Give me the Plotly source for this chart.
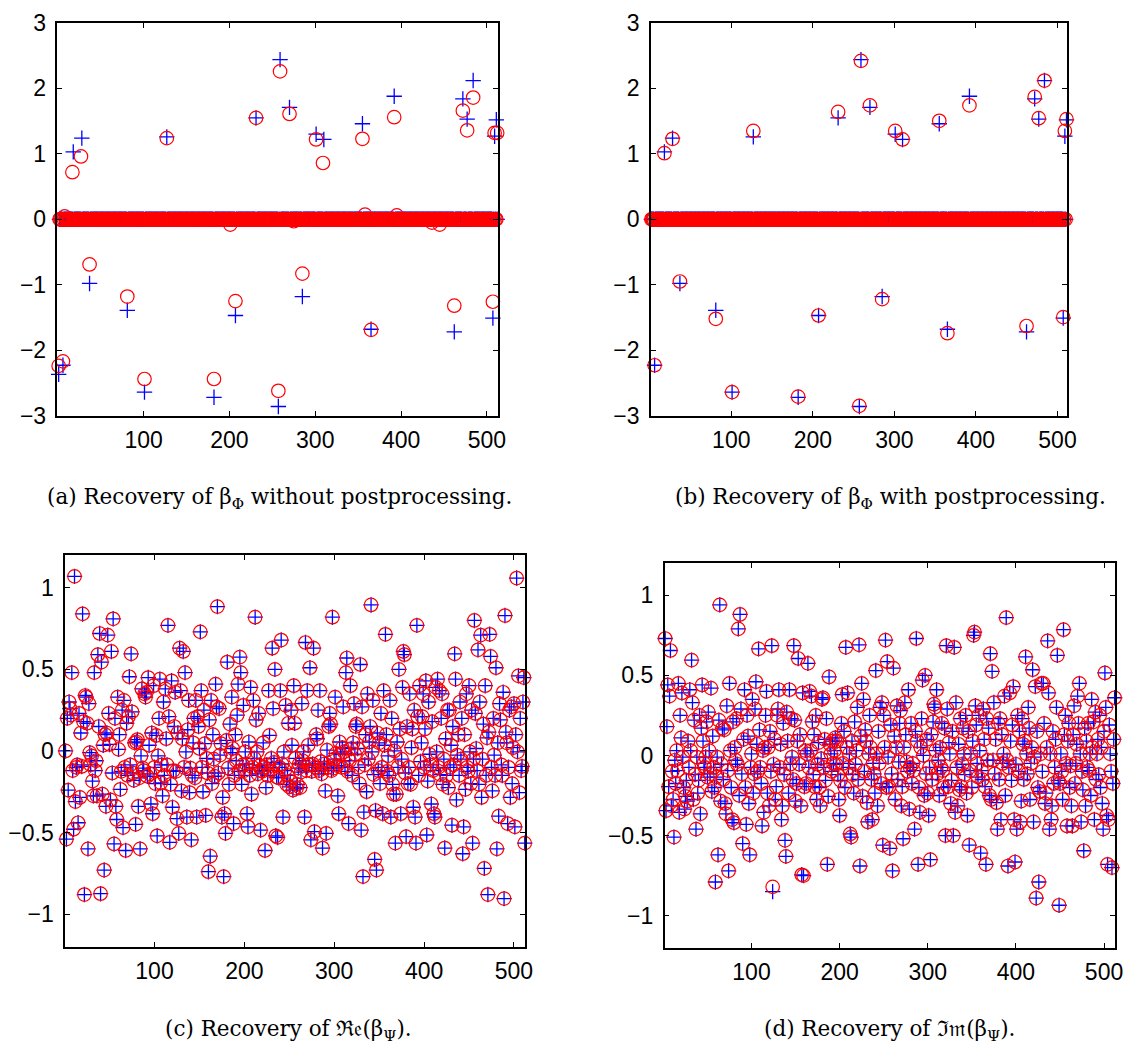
import plotly.graph_objects as go

N = 512

# ---------------- (a)/(b): sparse beta_Phi ----------------
phi_idx = [1, 6, 18, 28, 37, 81, 101, 127, 182, 207, 231, 257, 259, 270, 285,
           301, 310, 355, 365, 392, 462, 472, 477, 484, 507, 509, 511]
phi_true = [-2.37, -2.23, 1.03, 1.24, -0.98, -1.39, -2.64, 1.26, -2.72, -1.47, 1.55,
            -2.86, 2.44, 1.71, -1.18, 1.30, 1.22, 1.46, -1.68, 1.88, -1.72, 1.84,
            1.53, 2.12, -1.51, 1.27, 1.52]

# recovery without postprocessing
phi_a_idx = [1, 6, 17, 27, 37, 81, 101, 127, 182, 207, 231, 257, 259, 270, 285,
             301, 309, 355, 365, 392, 462, 472, 477, 484, 507, 509, 512,
             8, 201, 275, 358, 395, 436, 445]
phi_a_val = [-2.24, -2.17, 0.72, 0.96, -0.69, -1.18, -2.44, 1.24, -2.44, -1.25, 1.55,
             -2.62, 2.26, 1.61, -0.83, 1.22, 0.86, 1.23, -1.69, 1.56, -1.32, 1.66,
             1.36, 1.86, -1.26, 1.32, 1.32,
             0.045, -0.08, -0.03, 0.07, 0.06, -0.05, -0.08]

# recovery with postprocessing
phi_b_val = [-2.35, -2.23, 1.01, 1.23, -0.95, -1.52, -2.64, 1.35, -2.71, -1.47, 1.64,
             -2.85, 2.42, 1.74, -1.22, 1.35, 1.22, 1.505, -1.74, 1.74, -1.63, 1.87,
             1.545, 2.12, -1.495, 1.35, 1.53]

# ---------------- (c): Re(beta_Psi) ----------------
re_vals = (
    [0.0, -0.54, 0.20, -0.24, 0.30, 0.26, 0.22, 0.48, -0.12, -0.48, 1.07, -0.31]
    + [-0.10, -0.085, -0.44, 0.23, -0.285, 0.11, -0.095, 0.84, 0.18, -0.88, 0.34]
    + [0.33, 0.17, -0.60, 0.29, -0.01, -0.085, -0.03, -0.185, -0.275, 0.48, -0.12]
    + [-0.06, -0.275, 0.59, 0.15, 0.72, -0.875, 0.545, -0.265, 0.035, -0.73, 0.10]
    + [-0.34, 0.11, 0.71, 0.23, 0.04, -0.30, 0.61, -0.135, 0.81, -0.57, 0.20]
    + [-0.34, -0.42, 0.33, 0.01, 0.10, -0.235, -0.125, 0.25, -0.47, 0.31, -0.10]
    + [-0.61, 0.17, -0.15, 0.21, 0.455, -0.085, 0.595, 0.24, -0.135, -0.18, 0.05]
    + [-0.45, 0.055, 0.07, -0.34, -0.165, -0.60, -0.03, 0.38, -0.105, -0.12, 0.35]
    + [0.33, 0.36, -0.155, 0.45, 0.035, -0.14, -0.325, 0.11, -0.385, 0.40, -0.10]
    + [-0.20, 0.095, -0.52, -0.03, 0.20, 0.44, -0.195, -0.085, -0.275, 0.30, -0.15]
    + [0.38, 0.075, -0.085, 0.77, 0.21, -0.56, -0.205, 0.43, -0.345, -0.12, 0.15]
    + [0.36, -0.125, -0.415, 0.11, -0.505, 0.63, 0.37, -0.245, 0.075, 0.61, -0.10]
    + [0.48, -0.005, -0.405, 0.13, 0.31, -0.255, -0.105, -0.545, -0.15, 0.05, 0.20]
    + [-0.165, 0.31, -0.405, 0.21, 0.15, 0.015, 0.73, 0.37, -0.10, -0.25, 0.25]
    + [0.045, -0.395, -0.045, -0.135, -0.74, 0.19, -0.645, 0.31, -0.20, 0.10, -0.05]
    + [-0.155, 0.41, 0.27, 0.885, -0.135, 0.26, -0.025, 0.045, -0.405, -0.285, -0.77]
    + [-0.385, -0.505, 0.065, 0.545, -0.105, -0.205, 0.165, -0.01, 0.33, 0.015, -0.445, -0.15, 0.10, -0.06, 0.22]
    + [0.41, -0.125, 0.575, 0.48, -0.205, -0.085, 0.28, -0.12, -0.005, -0.08, -0.385, -0.465, 0.055, -0.15]
    + [0.39, -0.265, -0.10, 0.31, -0.045, 0.82, 0.19, -0.005, -0.14, 0.23, -0.09, -0.485, -0.12, -0.125, 0.05]
    + [-0.10, -0.61, -0.225, -0.085, -0.15, 0.37, 0.095, -0.12, -0.045, 0.63, 0.26, -0.07, 0.50, -0.52, -0.16]
    + [-0.53, -0.165, -0.10, 0.37, 0.68, -0.08, -0.405, -0.005, -0.12, 0.28, -0.205, -0.15, 0.17, -0.22]
    + [-0.185, 0.25, 0.035, -0.24, 0.40, 0.17, -0.045, -0.23, -0.205, -0.105, -0.08, -0.225, -0.13, 0.29, -0.06]
    + [-0.005, -0.405, 0.665, -0.12, 0.37, 0.035, -0.085, 0.51, -0.545, -0.125, -0.08, 0.63, -0.495, -0.10, 0.10]
    + [0.075, 0.25, -0.12, 0.37, -0.065, -0.14, -0.595, -0.105, -0.08, -0.245, -0.505, 0.005, -0.10, 0.15]
    + [0.23, 0.165, -0.12, 0.82, -0.105, -0.05, 0.33, -0.015, -0.09, -0.275, -0.385, 0.055, -0.02, -0.10, 0.02]
    + [0.27, -0.005, -0.10, 0.48, 0.57, -0.125, -0.445, -0.06, 0.40, 0.015, -0.15, 0.05, 0.29, -0.02, 0.15]
    + [0.165, 0.015, -0.10, -0.20, 0.53, -0.485, 0.27, -0.77, -0.375, -0.085, 0.10, -0.25, 0.35, -0.05]
    + [0.055, 0.15, 0.895, -0.005, 0.31, -0.145, -0.665, -0.365, -0.73, 0.11, -0.12, 0.05, -0.20, 0.23, -0.10]
    + [-0.385, 0.37, 0.035, 0.715, 0.10, -0.125, -0.03, -0.15, 0.31, -0.405, 0.20, -0.205, -0.265, 0.00]
    + [-0.565, -0.265, 0.055, -0.10, 0.50, 0.135, -0.385, -0.05, 0.39, 0.61, 0.59, -0.135, -0.525, 0.15, -0.20]
    + [-0.10, 0.35, -0.205, 0.02, 0.135, -0.345, 0.25, -0.405, -0.565, 0.77, 0.21, -0.15, 0.40, -0.065, 0.05]
    + [0.21, 0.35, -0.10, 0.135, 0.43, -0.515, -0.185, 0.30, -0.02, -0.085, -0.325, 0.18, -0.12, -0.385]
    + [-0.405, 0.39, -0.005, 0.44, -0.10, 0.37, -0.145, 0.20, 0.35, -0.205, -0.05, -0.595, 0.075, -0.15, 0.25]
    + [-0.225, 0.25, -0.10, 0.035, -0.455, 0.15, -0.085, 0.595, 0.44, -0.30, -0.025, 0.10, -0.15, 0.30, -0.05]
    + [0.20, -0.63, -0.465, 0.10, -0.235, 0.35, -0.10, -0.125, 0.40, -0.005, -0.20, 0.25, -0.565, -0.05]
    + [0.80, 0.23, 0.015, -0.12, 0.62, -0.205, 0.30, 0.71, -0.285, -0.05, 0.165, -0.72, 0.40, -0.15, 0.08]
    + [-0.88, 0.115, 0.715, 0.58, -0.10, -0.245, 0.20, -0.025, -0.15, 0.51, -0.60, 0.05, -0.40, 0.29]
    + [0.19, -0.085, -0.15, 0.36, -0.905, 0.83, 0.115, 0.05, -0.445, -0.10, 0.25, -0.285, 0.27, -0.20, 0.02]
    + [0.29, -0.465, 0.10, 1.06, -0.005, 0.46, -0.255, 0.20, -0.12, -0.095, 0.30, 0.45, -0.565]
)

# ---------------- (d): Im(beta_Psi) ----------------
im_vals = (
    [0.01, 0.73, -0.345, 0.18, 0.44, -0.195, 0.37, 0.655, -0.315, -0.10, -0.275, -0.51, -0.03, -0.175]
    + [0.03, -0.095, 0.45, -0.355, 0.25, 0.11, 0.39, -0.01, -0.20, -0.335, -0.255]
    + [-0.155, -0.285, 0.09, -0.075, 0.41, 0.03, 0.595, 0.33, -0.275, 0.22, -0.12]
    + [-0.46, -0.01, -0.235, -0.155, 0.25, -0.365, 0.17, 0.44, 0.09, -0.05, -0.075]
    + [-0.01, 0.21, -0.135, 0.27, 0.03, -0.115, 0.42, -0.225, 0.12, -0.075, -0.20, -0.79]
    + [-0.135, -0.01, -0.62, 0.22, 0.94, -0.285, -0.055, 0.17, -0.15, 0.16, -0.30]
    + [-0.365, 0.31, -0.095, -0.72, 0.45, 0.03, -0.20, -0.40, 0.21, -0.42, 0.05]
    + [-0.03, 0.23, -0.055, 0.79, -0.25, 0.88, 0.29, -0.115, -0.55, 0.10, 0.41]
    + [-0.20, -0.43, 0.25, 0.12, -0.30, -0.62, -0.075, 0.01, 0.35, -0.235, -0.115]
    + [0.29, 0.46, 0.07, -0.10, 0.665, 0.16, -0.075, -0.175, -0.44, 0.03, -0.355, 0.05]
    + [0.25, 0.40, -0.235, 0.05, -0.315, 0.15, -0.10, 0.685, -0.85, -0.055, 0.10]
    + [-0.275, -0.195, 0.25, 0.29, 0.41, -0.075, 0.07, -0.40, -0.315, 0.20, -0.12]
    + [-0.53, -0.63, 0.27, 0.09, -0.235, 0.41, -0.055, 0.23, -0.01, -0.15, 0.685]
    + [0.22, -0.285, -0.175, 0.09, 0.605, -0.055, 0.13, -0.315, -0.745, 0.39, -0.75, -0.195, 0.03, -0.175, 0.01]
    + [0.575, -0.075, 0.40, 0.03, 0.37, 0.21, -0.12, 0.13, -0.195, 0.25, -0.275, -0.055, 0.08, -0.20, -0.315]
    + [-0.02, 0.35, 0.36, -0.075, 0.10, -0.155, 0.23, -0.68, -0.255, 0.49, 0.07, 0.01, -0.10, 0.09, -0.05]
    + [0.03, 0.11, -0.055, 0.09, -0.12, -0.275, -0.375, -0.155, 0.20, 0.38, -0.05, 0.15, -0.20, 0.675, 0.05]
    + [0.39, -0.075, 0.01, -0.49, -0.51, 0.09, -0.12, -0.235, 0.21, -0.055, 0.03, 0.30, -0.15, 0.69, -0.69]
    + [0.12, 0.45, -0.255, 0.35, -0.10, 0.16, 0.09, -0.295, -0.415, 0.01, 0.25, 0.05, -0.15, -0.40, -0.05]
    + [-0.115, -0.235, 0.53, 0.01, -0.315, 0.15, -0.05, 0.30, -0.175, 0.33, -0.56, 0.25, 0.05, 0.72, -0.20]
    + [0.585, -0.01, -0.195, -0.58, 0.19, -0.115, -0.72, 0.545, 0.12, -0.275, 0.05, 0.31, -0.15, -0.04, 0.20]
    + [0.28, -0.315, -0.195, -0.52, 0.05, 0.33, 0.13, -0.04, -0.10, 0.41, -0.335, -0.075, 0.20, -0.175, -0.05]
    + [-0.095, -0.46, 0.15, 0.73, 0.09, -0.68, -0.20, -0.355, 0.05, 0.23, 0.47, 0.0, -0.25, 0.50, -0.115]
    + [0.10, -0.235, -0.375, -0.075, -0.65, 0.13, -0.15, 0.21, 0.32, 0.30, 0.03, 0.41, -0.115, -0.03, -0.25]
    + [0.05, -0.075, 0.20, -0.095, -0.20, 0.17, -0.50, 0.685, 0.29, -0.195, 0.08, 0.01, -0.30, -0.155, 0.15]
    + [-0.50, 0.675, -0.355, 0.33, -0.075, -0.315, 0.07, -0.215, 0.23, -0.195, -0.055, 0.17, 0.01, -0.12, 0.25]
    + [-0.235, -0.375, 0.15, -0.56, -0.095, 0.01, -0.20, 0.09, 0.75, 0.77, 0.31, 0.19, -0.05, -0.135, 0.25]
    + [0.03, -0.61, -0.095, -0.15, 0.29, 0.10, -0.195, -0.68, 0.23, -0.03, 0.17, -0.25, 0.635, -0.275, 0.525]
    + [-0.03, 0.33, -0.115, 0.10, -0.295, -0.46, 0.20, -0.15, 0.23, -0.40, 0.13, -0.05, 0.01, 0.37, -0.25]
    + [0.86, -0.03, -0.69, -0.075, 0.39, 0.09, -0.155, 0.19, 0.43, -0.40, -0.665, -0.055, -0.46, 0.25, -0.10]
    + [0.15, -0.415, -0.285, 0.23, 0.07, -0.15, 0.09, 0.615, 0.01, -0.115, 0.30, 0.17, -0.275, -0.05, 0.05]
    + [0.535, -0.415, -0.01, 0.43, -0.89, 0.15, -0.20, -0.79, -0.225, 0.01, 0.45, -0.10, 0.45, 0.20, -0.30]
    + [-0.235, 0.05, 0.715, 0.39, -0.46, 0.01, -0.40, -0.315, 0.15, -0.175, -0.075, 0.10, 0.30, 0.625, -0.155]
    + [-0.935, -0.175, 0.01, -0.10, -0.275, 0.785, 0.13, 0.25, -0.05, -0.44, 0.09, 0.20, -0.20, -0.065, -0.315]
    + [-0.44, 0.13, 0.31, -0.175, -0.05, 0.07, 0.37, 0.20, 0.45, 0.01, -0.415, -0.10, -0.215, -0.595, 0.17]
    + [-0.315, 0.09, -0.075, 0.20, -0.095, 0.01, -0.25, 0.35, 0.05, 0.21, -0.40, 0.27, -0.15, 0.01, 0.10]
    + [-0.12, 0.25, -0.20, 0.05, -0.30, -0.46, 0.15, 0.515, 0.30, -0.375, -0.68, -0.40, 0.19, 0.01, -0.10, -0.70, -0.175, 0.10, 0.36]
)
# points where the estimate visibly differs from the truth in (d)
im_est_fix_idx = [124]
im_est_fix_val = [-0.82]

x_ticks = [100, 200, 300, 400, 500]
y_ticks_top = [-3, -2, -1, 0, 1, 2, 3]
y_ticks_bot = [-1, -0.5, 0, 0.5, 1]
y_text_bot = ["\u22121", "\u22120.5", "0", "0.5", "1"]
y_text_top = ["\u22123", "\u22122", "\u22121", "0", "1", "2", "3"]

captions = [
    "(a) Recovery of \u03b2<sub>\u03a6</sub> without postprocessing.",
    "(b) Recovery of \u03b2<sub>\u03a6</sub> with postprocessing.",
    "(c) Recovery of \u211c\U0001D522(\u03b2<sub>\u03a8</sub>).",
    "(d) Recovery of \u2111\U0001D52A(\u03b2<sub>\u03a8</sub>).",
]

# ---------------- build full vectors ----------------
idx = list(range(1, N + 1))
true_phi = [0.0] * N
for i, v in zip(phi_idx, phi_true):
    true_phi[i - 1] = v
est_a = [0.0] * N
for i, v in zip(phi_a_idx, phi_a_val):
    est_a[i - 1] = v
est_b = [0.0] * N
for i, v in zip(phi_idx, phi_b_val):
    est_b[i - 1] = v

re_idx = list(range(1, len(re_vals) + 1))
im_idx = list(range(1, len(im_vals) + 1))
im_est = list(im_vals)
for i, v in zip(im_est_fix_idx, im_est_fix_val):
    im_est[i - 1] = v

# the page body has an 8px margin on every side: size the figure so that
# figure + margins exactly fills the 1148x1063 window
OFF = 8
W, H = 1148 - 2 * OFF, 1063 - 2 * OFF
fig = go.Figure()

BLUE = "#0000ff"
RED = "#ff0000"


def add_pair(xs, ys_true, ys_est, xa, ya):
    fig.add_trace(go.Scatter(
        x=xs, y=ys_true, mode="markers", xaxis=xa, yaxis=ya, cliponaxis=False,
        marker=dict(symbol="cross-thin-open", size=11, color=BLUE,
                    line=dict(color=BLUE, width=1.3)),
        showlegend=False, hoverinfo="skip"))
    fig.add_trace(go.Scatter(
        x=xs, y=ys_est, mode="markers", xaxis=xa, yaxis=ya, cliponaxis=False,
        marker=dict(symbol="circle-open", size=13.5, color=RED,
                    line=dict(color=RED, width=1.2)),
        showlegend=False, hoverinfo="skip"))


add_pair(idx, true_phi, est_a, "x", "y")
add_pair(idx, true_phi, est_b, "x2", "y2")
add_pair(re_idx, re_vals, re_vals, "x3", "y3")
add_pair(im_idx, im_vals, im_est, "x4", "y4")

tickfont = dict(family="Liberation Sans, Arial, sans-serif", size=23, color="black")


def xax(dom, rng, anchor):
    return dict(domain=dom, range=rng, anchor=anchor, showline=True, linecolor="black",
                linewidth=1.5, mirror="ticks", ticks="inside", ticklen=5, tickwidth=1,
                tickcolor="black", showgrid=False, zeroline=False, tickvals=x_ticks,
                ticktext=[str(t) for t in x_ticks], tickfont=tickfont,
                ticklabelstandoff=3, ticklabeloverflow="allow")


def yax(dom, rng, anchor, vals, texts):
    return dict(domain=dom, range=rng, anchor=anchor, showline=True, linecolor="black",
                linewidth=1.5, mirror="ticks", ticks="inside", ticklen=5, tickwidth=1,
                tickcolor="black", showgrid=False, zeroline=False, tickvals=vals,
                ticktext=texts, tickfont=tickfont, ticklabelstandoff=5,
                ticklabeloverflow="allow")


def fx(a, b):
    return [(a - OFF) / W, (b - OFF) / W]


def fy(top, bot):
    return [1 - (bot - OFF) / H, 1 - (top - OFF) / H]


layout = dict(
    width=W, height=H, margin=dict(l=0, r=0, t=0, b=0),
    paper_bgcolor="white", plot_bgcolor="white", showlegend=False,
    xaxis=xax(fx(55, 500.7), [-0.4, 513], "y"),
    yaxis=yax(fy(10, 412.7), [-3, 3], "x", y_ticks_top, y_text_top),
    xaxis2=xax(fx(655.3, 1076), [1.4, 511.3], "y2"),
    yaxis2=yax(fy(10, 412.7), [-3, 3], "x2", y_ticks_top, y_text_top),
    xaxis3=xax(fx(62.7, 527.7), [0.5, 512], "y3"),
    yaxis3=yax(fy(555.8, 957.3), [-1.2, 1.2], "x3", y_ticks_bot, y_text_bot),
    xaxis4=xax(fx(669.3, 1124.7), [1.5, 512.3], "y4"),
    yaxis4=yax(fy(564, 958.3), [-1.2, 1.2], "x4", y_ticks_bot, y_text_bot),
)
fig.update_layout(**layout)

cap_font = dict(family="DejaVu Serif, Liberation Serif, serif", size=21.5, color="black")
cap_pos = [(280, 498), (898, 498), (289, 1043), (897, 1043)]
for text, (cx, cy) in zip(captions, cap_pos):
    fig.add_annotation(text=text, x=(cx - OFF) / W, y=1 - (cy - OFF) / H,
                       xref="paper", yref="paper", showarrow=False,
                       xanchor="center", yanchor="middle", font=cap_font)

fig.write_html("out.html")
